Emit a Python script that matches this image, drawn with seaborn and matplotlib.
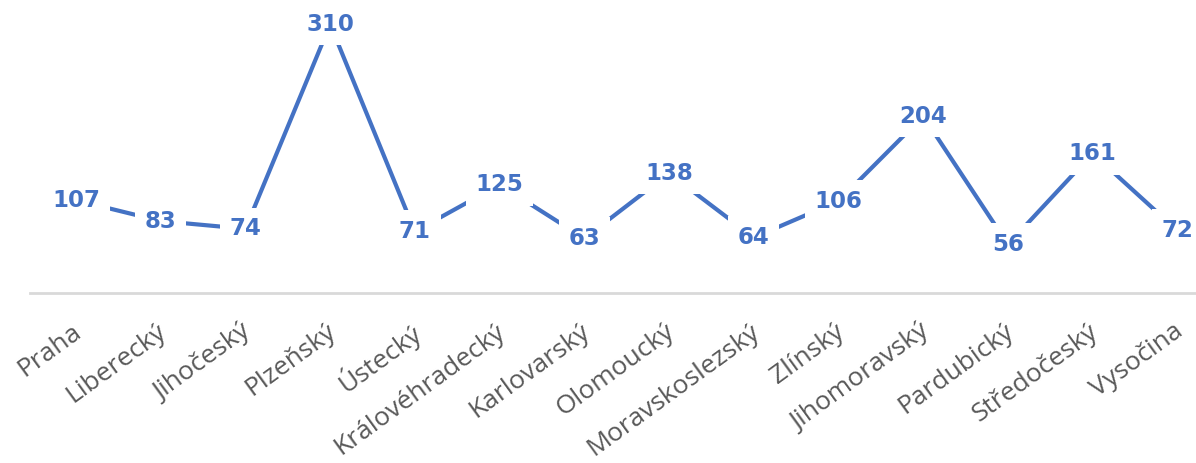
import numpy as np
import pandas as pd
import matplotlib
matplotlib.use("Agg")
import matplotlib.pyplot as plt
import matplotlib.transforms as mtransforms
import seaborn as sns

# ── data ──────────────────────────────────────────────────────────────
regions = ["Praha", "Liberecký", "Jihočeský", "Plzeňský", "Ústecký",
           "Královéhradecký", "Karlovarský", "Olomoucký", "Moravskoslezský",
           "Zlínský", "Jihomoravský", "Pardubický", "Středočeský", "Vysočina"]
values = [107, 83, 74, 310, 71, 125, 63, 138, 64, 106, 204, 56, 161, 72]

BLUE = "#4472C4"
GREY = "#595959"

sns.set_style("white")
plt.rcParams["font.family"] = ["Open Sans", "DejaVu Sans"]

df = pd.DataFrame({"region": regions, "value": values})

fig = plt.figure(figsize=(11.96, 4.63), dpi=100)
ax = fig.add_axes([30 / 1196, 1 - 293 / 463, 1 - 30 / 1196, 293 / 463])

sns.lineplot(data=df, x="region", y="value", sort=False, color=BLUE,
             linewidth=3, ax=ax)

for i, v in enumerate(values):
    ax.text(i, v, str(v), ha="center", va="center", color=BLUE,
            fontsize=16.5, fontweight="bold", family="DejaVu Sans", zorder=5,
            bbox=dict(facecolor="white", edgecolor="none", pad=7))

ax.set_xlim(-0.543, 13.22)
ax.set_ylim(0, 338)
ax.set_xticks(range(len(regions)))
ax.set_xticklabels(regions, rotation=36, ha="right", va="center",
                   rotation_mode="anchor", color=GREY, fontsize=19)
ax.tick_params(axis="x", length=0, pad=26)
offset = mtransforms.ScaledTranslation(3 / 100, 0, fig.dpi_scale_trans)
for lab in ax.get_xticklabels():
    lab.set_transform(lab.get_transform() + offset)
ax.set_yticks([])
ax.set_xlabel("")
ax.set_ylabel("")
for side in ["top", "left", "right"]:
    ax.spines[side].set_visible(False)
ax.spines["bottom"].set_color("#D9D9D9")
ax.spines["bottom"].set_linewidth(2)

fig.savefig("out.png", dpi=100)
